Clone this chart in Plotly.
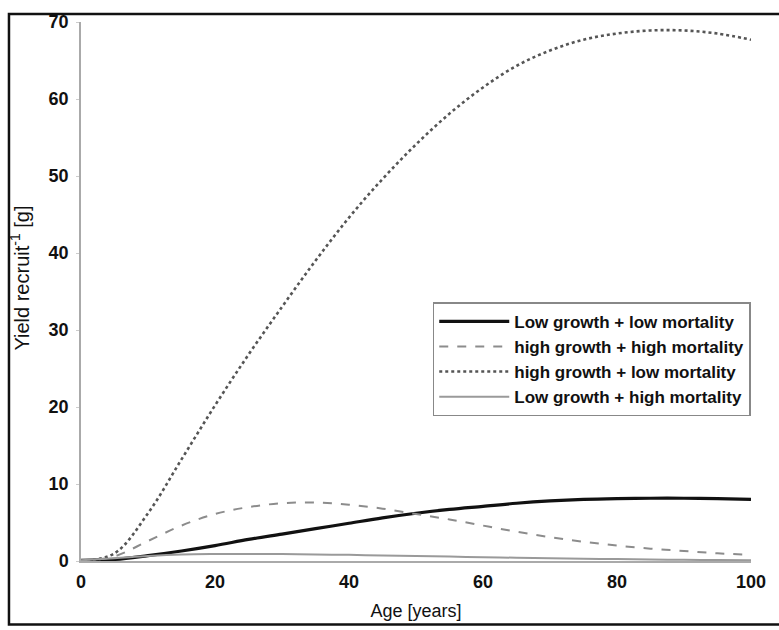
import plotly.graph_objects as go

age = [0, 5, 10, 15, 20, 25, 30, 35, 40, 45, 50, 55, 60, 65, 70, 75, 80, 85, 90, 95, 100]

low_growth_low_mort = [0.1, 0.2, 0.7, 1.3, 2.0, 2.8, 3.5, 4.2, 4.9, 5.6, 6.2, 6.7, 7.1, 7.5, 7.8, 8.0, 8.1, 8.15, 8.15, 8.1, 8.0]
high_growth_high_mort = [0.0, 0.6, 2.6, 4.6, 6.1, 7.0, 7.5, 7.6, 7.3, 6.8, 6.1, 5.4, 4.6, 3.8, 3.1, 2.5, 2.0, 1.6, 1.3, 1.0, 0.8]
high_growth_low_mort = [0.0, 1.0, 6.2, 13.2, 20.2, 26.8, 33.0, 39.0, 44.6, 49.6, 54.1, 58.1, 61.5, 64.3, 66.3, 67.7, 68.5, 68.9, 68.9, 68.5, 67.7]
low_growth_high_mort = [0.1, 0.35, 0.65, 0.85, 0.9, 0.9, 0.9, 0.85, 0.8, 0.72, 0.65, 0.57, 0.5, 0.42, 0.35, 0.3, 0.25, 0.2, 0.15, 0.12, 0.1]

names = ["Low growth + low mortality", "high growth + high mortality",
         "high growth + low mortality", "Low growth + high mortality"]
y_title = "Yield recruit<sup>-1</sup> [g]"
x_title = "Age [years]"

FONT = "Liberation Sans, Arial, sans-serif"

fig = go.Figure()
fig.add_trace(go.Scatter(x=age, y=low_growth_low_mort, name=names[0], mode="lines",
                         line=dict(color="#111111", width=3.2, shape="spline")))
fig.add_trace(go.Scatter(x=age, y=high_growth_high_mort, name=names[1], mode="lines",
                         line=dict(color="#8c8c8c", width=2, dash="dash", shape="spline")))
fig.add_trace(go.Scatter(x=age, y=high_growth_low_mort, name=names[2], mode="lines",
                         line=dict(color="#555555", width=2.6, dash="dot", shape="spline")))
fig.add_trace(go.Scatter(x=age, y=low_growth_high_mort, name=names[3], mode="lines",
                         line=dict(color="#9a9a9a", width=2, shape="spline")))

fig.update_layout(
    width=779, height=630,
    margin=dict(l=81, r=28, t=19, b=67),
    paper_bgcolor="white", plot_bgcolor="white",
    font=dict(family=FONT, color="#111111"),
    showlegend=True,
    legend=dict(x=0.525, y=0.480, xanchor="left", yanchor="top",
                bgcolor="white", bordercolor="#888888", borderwidth=1.5,
                font=dict(size=17, family=FONT, color="#111111", weight="bold"),
                itemwidth=70, tracegroupgap=0),
    xaxis=dict(range=[0, 100], tickvals=[0, 20, 40, 60, 80, 100], showgrid=False,
               zeroline=False, showline=True, linecolor="#aaaaaa", linewidth=1.5,
               ticks="", ticklabelstandoff=4, tickfont=dict(size=18, weight="bold"),
               title=dict(text=x_title, font=dict(size=18), standoff=13)),
    yaxis=dict(range=[0, 70], tickvals=[0, 10, 20, 30, 40, 50, 60, 70], showgrid=False,
               zeroline=False, showline=True, linecolor="#aaaaaa", linewidth=1.5,
               ticks="outside", ticklen=3, tickcolor="#cccccc", ticklabelstandoff=4,
               tickfont=dict(size=18, weight="bold")),
    annotations=[dict(text=y_title, xref="paper", yref="paper", x=-0.091, y=0.524,
                      textangle=-90, showarrow=False, font=dict(size=20, family=FONT),
                      xanchor="center", yanchor="middle")],
    shapes=[dict(type="rect", xref="paper", yref="paper",
                 x0=-0.1075, x1=1.06, y0=-0.1176, y1=1.0147,
                 line=dict(color="#111111", width=2.5), fillcolor="rgba(0,0,0,0)", layer="above")],
)

fig.write_html("out.html", config={"displayModeBar": False},
               post_script="document.body.style.margin='0px';")
